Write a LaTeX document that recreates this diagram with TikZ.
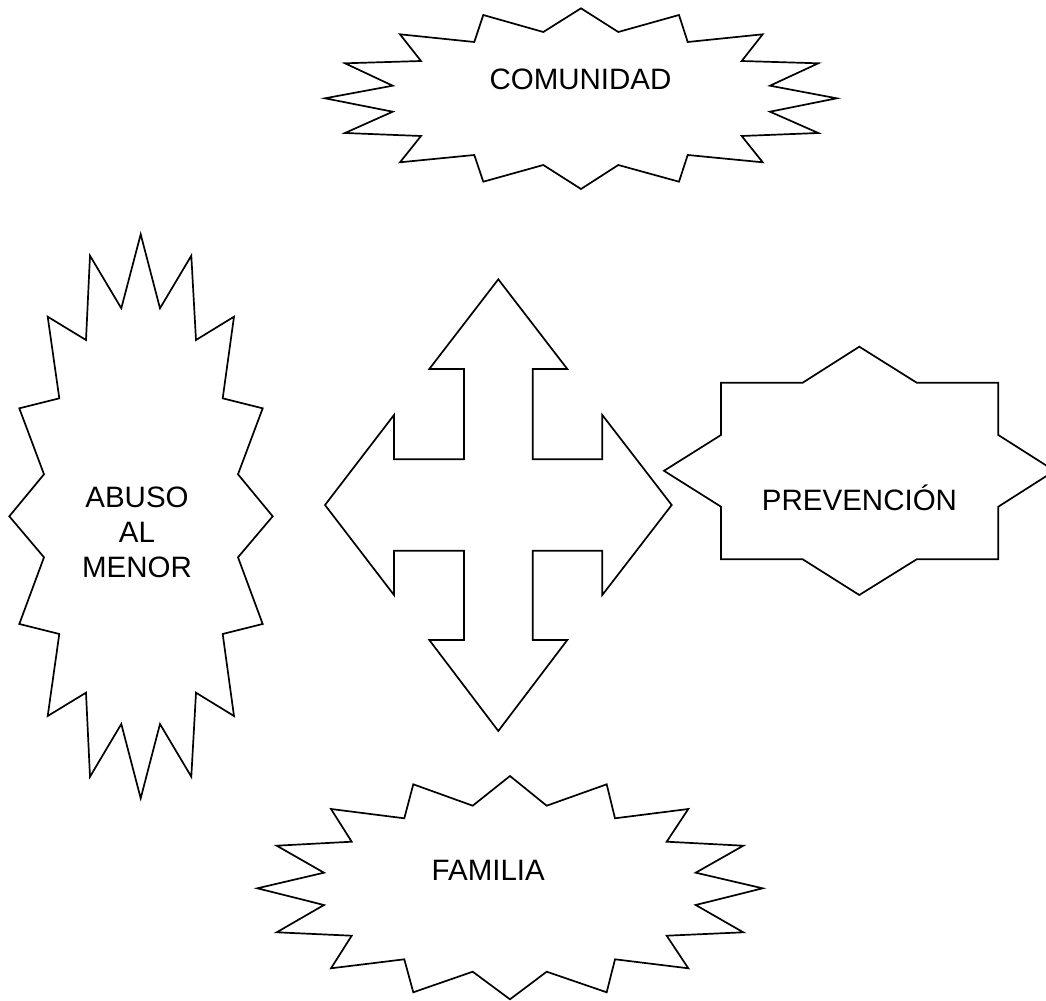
\documentclass[tikz,border=0pt]{standalone}
\usepackage{fontspec}
\setmainfont{Liberation Sans}
\usepackage{tikz}

\begin{document}
\begin{tikzpicture}[x=0.5pt, y=-0.5pt,
    every node/.style={font=\fontsize{14.75}{17.65}\selectfont},
    burst/.style={draw, line width=0.85pt, line join=miter}]
    % Page frame (pixel units, y pointing down)
    \useasboundingbox (0,0) rectangle (1046,1001);
    \clip (0,0) rectangle (1046,1001);

    % Top burst
    \draw[burst] (581,8.3) -- (618.3,32) -- (679,15) -- (687.7,42) -- (762.7,34.3)
        -- (741.7,61) -- (818.3,63.3) -- (770,85.7) -- (836.7,98.3) -- (770,111.7)
        -- (818.3,133) -- (741.7,136) -- (762.7,162.3) -- (687.7,155) -- (679,181.7)
        -- (618.3,165) -- (581,189) -- (543.3,165) -- (483.3,181.7) -- (474.3,155)
        -- (400,162.3) -- (421,136) -- (345,133) -- (392.7,111.7) -- (325,98.3)
        -- (392.7,85.7) -- (345,63.3) -- (421,61) -- (400,34.3) -- (474.3,42)
        -- (483.3,15) -- (543.3,32) -- cycle;
    \node[anchor=base] (comunidad) at (580.5,90) {COMUNIDAD};

    % Left burst (tall)
    \draw[burst] (140.7,234.3) -- (160,308.3) -- (191.3,255.7) -- (196,340) -- (234,316.7)
        -- (222.7,398.3) -- (262.7,408.3) -- (238,474.3) -- (272.7,516.3) -- (238,557.3)
        -- (262.7,624) -- (222.7,634) -- (234,716) -- (196,692.7) -- (191.3,776.7)
        -- (160,724) -- (140.7,798.3) -- (121.3,724) -- (90,776.7) -- (86,692.7)
        -- (47.7,716) -- (59.3,634) -- (19.3,624) -- (44,557.3) -- (9.3,516.3)
        -- (44,474.3) -- (19.3,408.3) -- (59.3,398.3) -- (47.7,316.7) -- (86,340)
        -- (90,255.7) -- (121.3,308.3) -- cycle;
    \node[align=center] (abuso) at (137,532.5) {ABUSO\\AL\\MENOR};

    % Four-way arrow in the middle
    \draw[burst] (498.3,279.3) -- (567.3,369) -- (532.7,369) -- (532.7,459.3) -- (602.3,459.3)
        -- (602.3,415) -- (671.7,505) -- (602.3,595) -- (602.3,550.7) -- (532.7,550.7)
        -- (532.7,640) -- (567.3,640) -- (498.3,731) -- (429.3,640) -- (464,640)
        -- (464,550.7) -- (394,550.7) -- (394,595) -- (325,505) -- (394,415)
        -- (394,459.3) -- (464,459.3) -- (464,369) -- (429.3,369) -- cycle;

    % Right star, 8 points (right tip runs off the page)
    \draw[burst] (859.3,346.7) -- (916.7,382.7) -- (998.3,382.7) -- (998.3,435) -- (1054.6,470.8)
        -- (998.3,506.7) -- (998.3,559.3) -- (916.7,559.3) -- (859.3,595) -- (802.7,559.3)
        -- (721,559.3) -- (721,506.7) -- (664,470.8) -- (721,435) -- (721,382.7)
        -- (802.7,382.7) -- cycle;
    \node[anchor=base] (prevencion) at (859.5,510) {PREVENCIÓN};

    % Bottom burst
    \draw[burst] (510,776) -- (546.7,805.7) -- (606.7,784.3) -- (615,818.3) -- (688.3,809)
        -- (666.7,841.7) -- (743.3,845.7) -- (695.7,872.7) -- (762.7,888.3) -- (695.7,905)
        -- (743.3,932.3) -- (666.7,935.7) -- (688.3,968.3) -- (615,959.3) -- (606.7,992.3)
        -- (546.7,971.7) -- (510,999.3) -- (472.7,971.7) -- (413.3,992.3) -- (404.3,959.3)
        -- (331,968.3) -- (351.7,935.7) -- (276.7,932.3) -- (324,905) -- (257.3,888.3)
        -- (324,872.7) -- (276.7,845.7) -- (351.7,841.7) -- (331,809) -- (404.3,818.3)
        -- (413.3,784.3) -- (472.7,805.7) -- cycle;
    \node[anchor=base] (familia) at (488.3,880.7) {FAMILIA};
\end{tikzpicture}
\end{document}
